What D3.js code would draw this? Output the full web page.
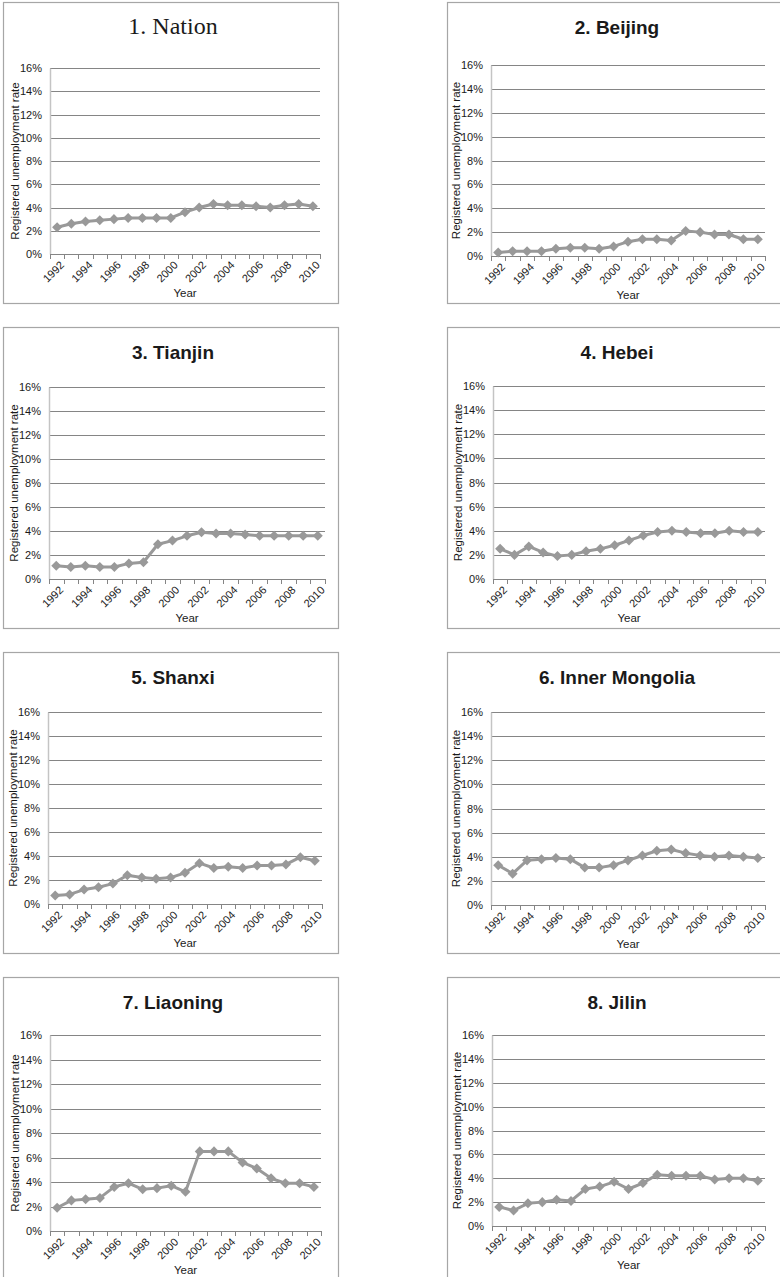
<!DOCTYPE html>
<html>
<head>
<meta charset="utf-8">
<script src="https://cdn.jsdelivr.net/npm/d3@7/dist/d3.min.js"></script>
<style>
  html, body { margin: 0; padding: 0; background: #fff; }
  svg { display: block; }
  text { font-family: "Liberation Sans", Arial, sans-serif; fill: #1a1a1a; }
</style>
</head>
<body>
<svg id="chart" width="780" height="1277"></svg>
<script>
// Registered unemployment rate (%), 1992-2010
const years = d3.range(1992, 2011);
const yTicks = [0, 2, 4, 6, 8, 10, 12, 14, 16];
const regions = ["1. Nation", "2. Beijing", "3. Tianjin", "4. Hebei",
                 "5. Shanxi", "6. Inner Mongolia", "7. Liaoning", "8. Jilin"];

const nation       = [2.3, 2.6, 2.8, 2.9, 3.0, 3.1, 3.1, 3.1, 3.1, 3.6, 4.0, 4.3, 4.2, 4.2, 4.1, 4.0, 4.2, 4.3, 4.1];
const beijing      = [0.3, 0.4, 0.4, 0.4, 0.6, 0.7, 0.7, 0.6, 0.8, 1.2, 1.4, 1.4, 1.3, 2.1, 2.0, 1.8, 1.8, 1.4, 1.4];
const tianjin      = [1.1, 1.0, 1.1, 1.0, 1.0, 1.3, 1.4, 2.9, 3.2, 3.6, 3.9, 3.8, 3.8, 3.7, 3.6, 3.6, 3.6, 3.6, 3.6];
const hebei        = [2.5, 2.0, 2.7, 2.2, 1.9, 2.0, 2.3, 2.5, 2.8, 3.2, 3.6, 3.9, 4.0, 3.9, 3.8, 3.8, 4.0, 3.9, 3.9];
const shanxi       = [0.7, 0.8, 1.2, 1.4, 1.7, 2.4, 2.2, 2.1, 2.2, 2.6, 3.4, 3.0, 3.1, 3.0, 3.2, 3.2, 3.3, 3.9, 3.6];
const innerMongolia= [3.3, 2.6, 3.7, 3.8, 3.9, 3.8, 3.1, 3.1, 3.3, 3.7, 4.1, 4.5, 4.6, 4.3, 4.1, 4.0, 4.1, 4.0, 3.9];
const liaoning     = [1.9, 2.5, 2.6, 2.7, 3.6, 3.9, 3.4, 3.5, 3.7, 3.2, 6.5, 6.5, 6.5, 5.6, 5.1, 4.3, 3.9, 3.9, 3.6];
const jilin        = [1.6, 1.3, 1.9, 2.0, 2.2, 2.1, 3.1, 3.3, 3.7, 3.1, 3.6, 4.3, 4.2, 4.2, 4.2, 3.9, 4.0, 4.0, 3.8];

const seriesList = [nation, beijing, tianjin, hebei, shanxi, innerMongolia, liaoning, jilin];

// Panel frames and plot areas (page coordinates)
const layout = [
  { bx: 3,   by: 2,   bw: 335, L: 50,  T: 68,   R: 320, B: 254 },
  { bx: 447, by: 2,   bw: 345, L: 491, T: 65,   R: 765, B: 256 },
  { bx: 3,   by: 327, bw: 335, L: 49,  T: 387,  R: 325, B: 579 },
  { bx: 447, by: 327, bw: 345, L: 493, T: 386,  R: 765, B: 579 },
  { bx: 3,   by: 652, bw: 335, L: 48,  T: 712,  R: 322, B: 904 },
  { bx: 447, by: 652, bw: 345, L: 491, T: 712,  R: 765, B: 905 },
  { bx: 3,   by: 977, bw: 335, L: 50,  T: 1035, R: 321, B: 1231 },
  { bx: 447, by: 977, bw: 345, L: 492, T: 1035, R: 765, B: 1226 }
];
const boxH = 301;

const svg = d3.select("#chart");
const lineColor = "#999999";
const gridColor = "#858585";

regions.forEach((name, i) => {
  const p = layout[i];
  const values = seriesList[i];
  const g = svg.append("g");

  // frame
  g.append("rect")
    .attr("x", p.bx + 0.5).attr("y", p.by + 0.5)
    .attr("width", p.bw).attr("height", boxH)
    .attr("fill", "#fff").attr("stroke", "#a6a6a6").attr("stroke-width", 1.2);

  // title
  g.append("text")
    .attr("x", p.bx + 170).attr("y", p.by + 32)
    .attr("text-anchor", "middle")
    .style("font-family", i === 0 ? "'Liberation Serif', 'Times New Roman', serif" : null)
    .style("font-size", i === 0 ? "24px" : "19px")
    .style("font-weight", i === 0 ? "normal" : "bold")
    .text(name);

  const x = d3.scaleBand().domain(years).range([p.L, p.R]);
  const y = d3.scaleLinear().domain([0, 16]).range([p.B, p.T]);

  // horizontal gridlines
  g.append("g").selectAll("line")
    .data(yTicks.filter(t => t > 0))
    .join("line")
    .attr("x1", p.L).attr("x2", p.R)
    .attr("y1", d => Math.round(y(d)) + 0.5).attr("y2", d => Math.round(y(d)) + 0.5)
    .attr("stroke", gridColor).attr("stroke-width", 1);

  // y axis
  const yAxis = g.append("g")
    .attr("transform", `translate(${p.L},0)`)
    .call(d3.axisLeft(y).tickValues(yTicks).tickSize(0).tickPadding(8)
      .tickFormat(d => d + "%"));
  yAxis.select(".domain").attr("stroke", "#c4c4c4").attr("stroke-width", 1.5);
  yAxis.selectAll("text")
    .style("font-size", "11px").style("font-family", "'Liberation Sans', Arial, sans-serif")
    .attr("fill", "#1a1a1a");

  // x axis: ticks at category boundaries
  const bounds = years.map(yr => x(yr)).concat([p.R]);
  const xg = g.append("g");
  xg.append("line")
    .attr("x1", p.L).attr("x2", p.R)
    .attr("y1", Math.round(p.B) + 0.5).attr("y2", Math.round(p.B) + 0.5)
    .attr("stroke", gridColor).attr("stroke-width", 1);
  xg.selectAll("line.tk")
    .data(bounds)
    .join("line").attr("class", "tk")
    .attr("x1", d => Math.round(d) + 0.5).attr("x2", d => Math.round(d) + 0.5)
    .attr("y1", p.B).attr("y2", p.B + 5)
    .attr("stroke", gridColor).attr("stroke-width", 1);
  xg.selectAll("text")
    .data(years.filter((yr, k) => k % 2 === 0))
    .join("text")
    .attr("transform", d => `translate(${x(d) + x.bandwidth() / 2 + 5},${p.B + 9}) rotate(-45)`)
    .attr("text-anchor", "end")
    .attr("dy", "0.35em")
    .style("font-size", "11px")
    .text(d => d);

  // axis titles
  g.append("text")
    .attr("x", (p.L + p.R) / 2).attr("y", p.B + 43)
    .attr("text-anchor", "middle")
    .style("font-size", "11.5px")
    .text("Year");
  g.append("text")
    .attr("transform", `translate(${p.L - 31},${(p.T + p.B) / 2}) rotate(-90)`)
    .attr("text-anchor", "middle")
    .style("font-size", "11.5px")
    .text("Registered unemployment rate");

  // series line and diamond markers
  const pts = years.map((yr, k) => ({ yr, v: values[k] }));
  const line = d3.line()
    .x(d => x(d.yr) + x.bandwidth() / 2)
    .y(d => y(d.v));
  g.append("path")
    .datum(pts)
    .attr("d", line)
    .attr("fill", "none")
    .attr("stroke", lineColor)
    .attr("stroke-width", 3)
    .attr("stroke-linejoin", "round");
  const diamond = d3.symbol().type(d3.symbolDiamond2).size(64);
  g.append("g").selectAll("path")
    .data(pts)
    .join("path")
    .attr("transform", d => `translate(${x(d.yr) + x.bandwidth() / 2},${y(d.v)})`)
    .attr("d", diamond)
    .attr("fill", lineColor);
});
</script>
</body>
</html>
